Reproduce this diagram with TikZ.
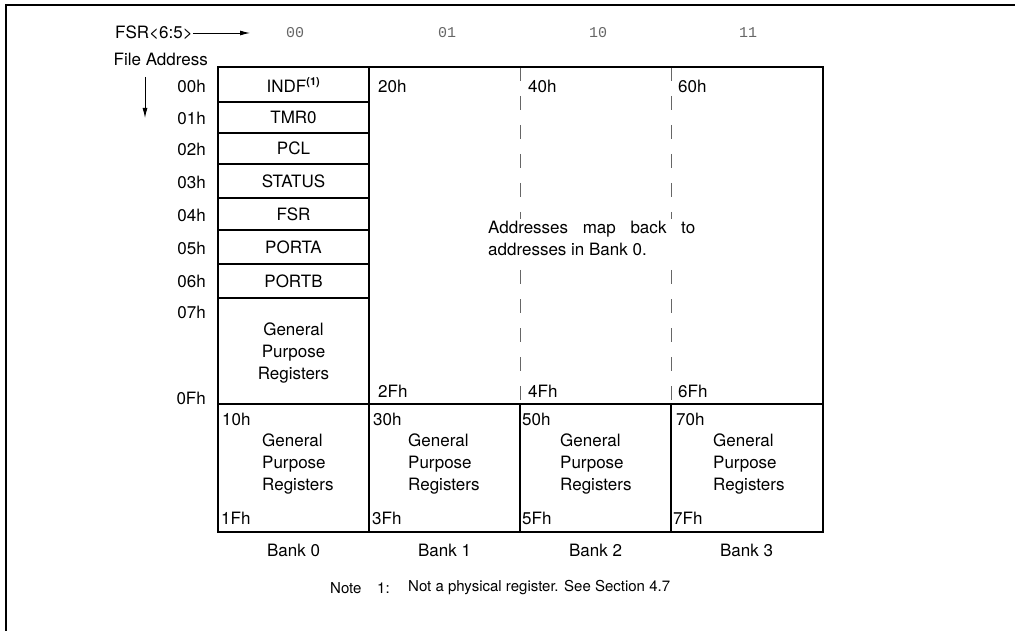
\documentclass[tikz,border=0pt]{standalone}
\usepackage{fontspec}
\setmainfont{TeX Gyre Heros}
\newfontfamily\monofnt{Liberation Mono}
\usetikzlibrary{arrows.meta}
\begin{document}
\begin{tikzpicture}[x=1pt,y=-1pt,
  lbl/.style={inner sep=0pt,font=\fontsize{17}{22}\selectfont},
  addr/.style={lbl,anchor=east},
  lft/.style={lbl,anchor=west},
  colhd/.style={inner sep=0pt,font=\monofnt\fontsize{15}{18}\selectfont,text=black!60},
  frame/.style={line width=2.5pt},
  box/.style={line width=1.8pt},
  row/.style={line width=1.3pt},
  dsh/.style={line width=0.9pt,black!60,dash pattern=on 14pt off 15pt},
  arr/.style={line width=0.9pt,-{Latex[length=10pt,width=5pt]}}
]
\useasboundingbox (0,0) rectangle (1015,631);
% outer frame (top and left edges)
\draw[frame] (6,631) -- (6,5) -- (1015,5);

% header
\node[lbl,anchor=west] (fsr) at (115,33) {FSR\textless6:5\textgreater};
\coordinate (fsrend) at (250,33);
\draw[arr] (fsr.east) -- (fsrend);
\node[colhd] (c00) at (295,33) {00};
\node[colhd] (c01) at (447,33) {01};
\node[colhd] (c10) at (598,33) {10};
\node[colhd] (c11) at (748,33) {11};
\node[lbl,anchor=east] (fa) at (208,59) {File Address};
\coordinate (dA) at (145,77);
\coordinate (dB) at (145,118);
\draw[arr] (dA) -- (dB);

% dashed bank separators (upper part)
\draw[dsh] (520,67) -- (520,404);
\draw[dsh] (671,67) -- (671,404);

% middle text
\node[lbl,anchor=west,align=left,fill=white,inner sep=2pt] (mapnote) at (486,238)
  {\makebox[207pt][s]{Addresses\hfill map\hfill back\hfill to}\\addresses in Bank 0.};

% main grid
\draw[box] (218,67) rectangle (823,532);
\draw[box] (218,404) -- (823,404);
\draw[box] (369,67) -- (369,532);
\draw[box] (520,404) -- (520,532);
\draw[box] (671,404) -- (671,532);
\foreach \yy in {102,133,164,198,230,264,298} \draw[row] (218,\yy) -- (369,\yy);

% register names
\node[lbl] (indf) at (293.5,85) {INDF\textsuperscript{\fontsize{11}{12}\selectfont\bfseries(1)}};
\node[lbl] (tmr0) at (293.5,117.5) {TMR0};
\node[lbl] (pcl) at (293.5,148.5) {PCL};
\node[lbl] (status) at (293.5,181) {STATUS};
\node[lbl] (fsrreg) at (293.5,214) {FSR};
\node[lbl] (porta) at (293.5,247) {PORTA};
\node[lbl] (portb) at (293.5,281) {PORTB};
\node[lbl,align=center] (gpr0) at (293.5,353) {General\\Purpose\\Registers};

% file addresses
\node[addr] (a00) at (206,86) {00h};
\node[addr] (a01) at (206,118) {01h};
\node[addr] (a02) at (206,149) {02h};
\node[addr] (a03) at (206,182) {03h};
\node[addr] (a04) at (206,215) {04h};
\node[addr] (a05) at (206,248) {05h};
\node[addr] (a06) at (206,281) {06h};
\node[addr] (a07) at (206,312) {07h};
\node[addr] (a0f) at (206,398) {0Fh};

% upper bank addresses
\node[lft] (u20) at (378,86) {20h};
\node[lft] (u40) at (528,86) {40h};
\node[lft] (u60) at (678,86) {60h};
\node[lft] (u2f) at (378,391) {2Fh};
\node[lft] (u4f) at (528,391) {4Fh};
\node[lft] (u6f) at (678,391) {6Fh};

% lower cells
\node[lft] (l10) at (222,419) {10h};
\node[lft] (l30) at (373,419) {30h};
\node[lft] (l50) at (522,419) {50h};
\node[lft] (l70) at (676,419) {70h};
\node[lft] (l1f) at (221,518) {1Fh};
\node[lft] (l3f) at (372,518) {3Fh};
\node[lft] (l5f) at (522,518) {5Fh};
\node[lft] (l7f) at (673,518) {7Fh};
\node[lft,align=left] (g0) at (262,464) {General\\Purpose\\Registers};
\node[lft,align=left] (g1) at (408,464) {General\\Purpose\\Registers};
\node[lft,align=left] (g2) at (560,464) {General\\Purpose\\Registers};
\node[lft,align=left] (g3) at (713,464) {General\\Purpose\\Registers};

% bank labels
\node[lbl] (b0) at (293.5,550) {Bank 0};
\node[lbl] (b1) at (444.5,550) {Bank 1};
\node[lbl] (b2) at (595.5,550) {Bank 2};
\node[lbl] (b3) at (746.5,550) {Bank 3};

% note
\node[lbl,anchor=west,font=\fontsize{15}{18}\selectfont] (nt) at (330,588) {Note};
\node[lbl,anchor=west,font=\fontsize{15}{18}\selectfont] (n1) at (377,588) {1:};
\node[lbl,anchor=west,font=\fontsize{15}{18}\selectfont] (ntext) at (408,588) {Not a physical register. See Section 4.7};
\end{tikzpicture}
\end{document}
